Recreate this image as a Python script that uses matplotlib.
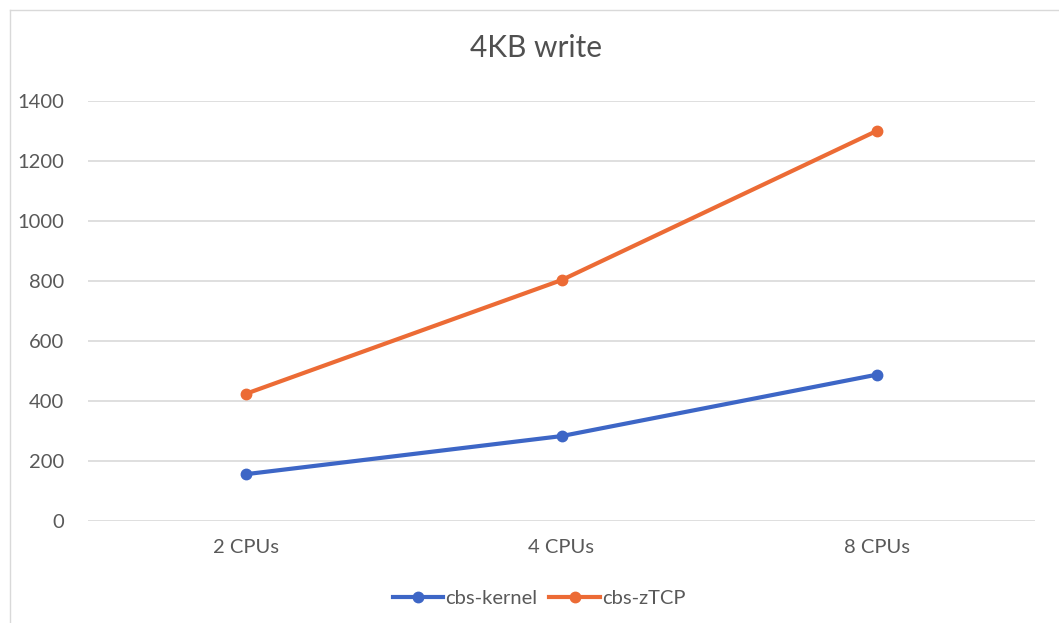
import matplotlib
matplotlib.use("Agg")
import matplotlib.pyplot as plt
from matplotlib.lines import Line2D
import numpy as np

plt.rcParams['font.family'] = ['Lato', 'DejaVu Sans']

categories = ["2 CPUs", "4 CPUs", "8 CPUs"]
series_names = ["cbs-kernel", "cbs-zTCP"]
kernel_values = [155, 282, 487]
ztcp_values = [423, 802, 1300]
y_ticks = [0, 200, 400, 600, 800, 1000, 1200, 1400]

colors = ["#3D66C6", "#EC6B35"]
text_color = "#595959"
grid_color = "#D9D9D9"

W, H = 1059, 623
fig = plt.figure(figsize=(W / 100, H / 100), dpi=100)
fig.patch.set_facecolor("white")

ax = fig.add_axes([88 / W, 1 - 520.7 / H, (1035 - 88) / W, (520.7 - 100.7) / H])

x = np.arange(len(categories))

handles = []
for vals, color, name in zip([kernel_values, ztcp_values], colors, series_names):
    ax.plot(x, vals, color=color, linewidth=3, solid_capstyle="round",
            solid_joinstyle="round", zorder=3)
    ax.plot(x, vals, linestyle="none", marker="o", markersize=7.5,
            color=color, zorder=4)
    handles.append(Line2D([], [], color=color, linewidth=3, marker="o",
                          markersize=7.5, markevery=[1], label=name))

ax.set_xlim(-0.5, len(categories) - 0.5)
ax.set_ylim(0, 1400)
ax.set_yticks(y_ticks)
ax.set_yticklabels([str(t) for t in y_ticks])
ax.set_xticks(x)
ax.set_xticklabels(categories)

ax.grid(axis="y", color=grid_color, linewidth=1.2)
ax.set_axisbelow(True)
for s in ax.spines.values():
    s.set_visible(False)
ax.tick_params(axis="both", length=0, labelsize=14.5, colors=text_color)
ax.tick_params(axis="y", pad=17)
ax.tick_params(axis="x", pad=13)

fig.text(0.506, 1 - 48 / H, "4KB write", ha="center", va="center",
         fontsize=21.5, color="#505050")

leg = fig.legend(handles=handles, loc="center", bbox_to_anchor=(0.509, 1 - 598 / H),
                 ncol=2, frameon=False, fontsize=14.5, handlelength=2.5,
                 handletextpad=0.1, columnspacing=0.6)
for t in leg.get_texts():
    t.set_color(text_color)

# chart-area border (left and top edges)
fig.add_artist(Line2D([10 / W, 10 / W], [0, 1 - 10 / H], transform=fig.transFigure,
                      color="#D9D9D9", linewidth=1))
fig.add_artist(Line2D([10 / W, 1], [1 - 10 / H, 1 - 10 / H], transform=fig.transFigure,
                      color="#D9D9D9", linewidth=1))

fig.savefig("out.png", dpi=100, facecolor="white")
